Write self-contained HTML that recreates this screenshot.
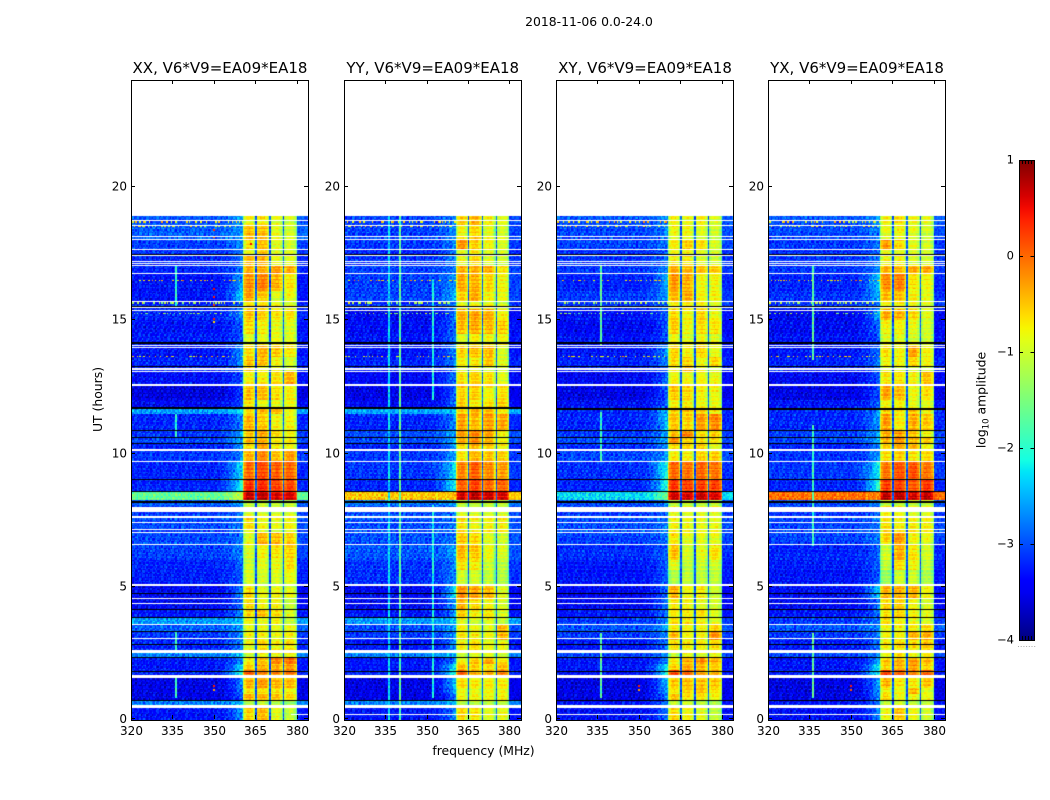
<!DOCTYPE html>
<html lang="en">
<head>
<meta charset="utf-8">
<title>2018-11-06 0.0-24.0</title>
<style>
html,body{margin:0;padding:0;background:#fff;width:1050px;height:800px;overflow:hidden}
#stage{position:relative;width:1050px;height:800px;font-family:"DejaVu Sans","Liberation Sans",sans-serif}
canvas{position:absolute;display:block}
svg{position:absolute;left:0;top:0}
text{font-family:"DejaVu Sans","Liberation Sans",sans-serif;fill:#000}
</style>
</head>
<body>
<div id="stage">
<svg id="overlay" width="1050" height="800" viewBox="0 0 1050 800">
<text x="589" y="26" text-anchor="middle" font-size="12.4">2018-11-06 0.0-24.0</text>
<text transform="translate(102,399.5) rotate(-90)" text-anchor="middle" font-size="12.4">UT (hours)</text>
<text x="483.5" y="755" text-anchor="middle" font-size="12.4">frequency (MHz)</text>
<text transform="translate(985.5,400) rotate(-90)" text-anchor="middle" font-size="12.4">log<tspan font-size="8.5" dy="3">10</tspan><tspan dy="-3"> amplitude</tspan></text>
</svg>
</div>
<script>
const panelTitles = ["XX, V6*V9=EA09*EA18","YY, V6*V9=EA09*EA18","XY, V6*V9=EA09*EA18","YX, V6*V9=EA09*EA18"];
const xTickLabels = [320,335,350,365,380];
const yTickLabels = [0,5,10,15,20];
const colorTickLabels = [1,0,-1,-2,-3,-4];
const bandEdges = [360.4,365,370.1,375.1,379.9];
const notchValue = -3.0;
const subbandTaper = [-0.65,-0.2,-0.05,0.02,0.04,0.02,-0.05,-0.2,-0.6];
const offBandShift = -0.24;

/* UT at which each time segment starts; last segment ends at dataEndUT */
const dataEndUT = 18.9;
const segStarts = [0,0.54,0.73,0.95,1.2,1.6,1.85,2.08,2.36,2.62,3.01,3.31,3.6,3.84,4.14,4.55,5.05,5.6,6.0,6.57,7.0,7.55,8.0,8.25,8.55,9.0,9.67,10.1,10.34,10.6,10.86,11.45,11.65,12.0,12.55,13.05,13.25,13.6,14.0,14.45,15.0,15.4,15.67,16.1,16.75,17.05,17.42,17.63,18.0,18.55];

/* log10 amplitude per segment: [off-band, band-edge, sub-band 1..4] */
const seriesXX = [
[-3.1,-2.6,-.5,-.35,-.8,-1],[-2.5,-2.4,-1,-.9,-1,-1.2],[-3.3,-2.9,-.25,-.3,-.4,-.5],[-3.3,-2.8,-.6,-.6,-.6,-.7],[-3.3,-2.7,-.3,-.2,-.3,-.35],
[-3,-1.9,.15,-.1,-.1,0],[-3.1,-2.2,-.45,-.3,-.3,-.2],[-3.1,-2.7,-.7,-.45,-.1,0],[-2.5,-2.4,-.9,-.7,-.7,-.7],[-3,-2.7,-.75,-.55,-.7,-.6],
[-2.9,-2.7,-.7,-.7,-.75,-.7],[-2.7,-2.6,-.8,-.8,-.8,-.75],[-2.4,-2.4,-.7,-.8,-.7,-1],[-3.1,-2.7,-.55,-.45,-.6,-.9],[-3.2,-2.8,-.55,-.75,-.7,-1],
[-3.2,-2.7,-.5,-.8,-.7,-.8],[-3.05,-2.9,-.85,-.9,-.85,-.75],[-3,-2.9,-.9,-.8,-.75,-.55],[-2.85,-2.7,-.85,-.7,-.6,-.5],[-2.8,-2.8,-.8,-.35,-.35,-.5],
[-2.8,-2.8,-.55,-.75,-.8,-.7],[-2.9,-2.8,-.9,-.9,-.9,-.9],[-2.7,-2.6,-1,-1,-1,-1],[-1.7,-1,.75,.75,.65,.65],[-3,-2,.4,.4,.3,.25],
[-3,-2.2,.1,.25,.15,.1],[-2.9,-2.7,-.3,-.1,-.4,-.2],[-3,-2.6,-.5,-.2,-.6,-.7],[-2.8,-2.5,-.3,-.3,-.6,-.6],[-2.9,-2.5,-.4,-.25,-.5,-.7],
[-3,-2.7,-.3,-.45,-.7,-.7],[-2.4,-2.3,-.6,-.4,-.4,-.8],[-3.2,-3,-.6,-.8,-.8,-.75],[-3.35,-3.1,-.4,-.4,-.6,-.7],[-3.15,-3,-.7,-.7,-.6,-.35],
[-3,-2.8,-.45,-.7,-.75,-.9],[-3,-2.7,-.4,-.4,-.7,-.9],[-3.1,-2.6,-.5,-.3,-.4,-.6],[-3.05,-3,-.85,-.8,-.75,-.85],[-3.1,-2.9,-.5,-.65,-.75,-.8],
[-3,-2.7,-.4,-.5,-.6,-.6],[-3,-2.9,-.55,-.55,-.7,-.85],[-3.1,-2.3,-.2,-.45,-.85,-.75],[-3.1,-2.5,-.1,-.05,-.3,-.6],[-3,-2.8,-.3,-.3,-.2,-.3],
[-3,-2.8,-.3,-.3,-.75,-.8],[-2.9,-2.8,-.7,-.4,-.8,-.8],[-2.85,-2.7,-.6,-.4,-.8,-.9],[-2.7,-2.6,-.35,-.4,-.8,-.9],[-2.75,-2.6,-.7,-.6,-.8,-.9]];
const seriesYY = [
[-3.1,-2.7,-.5,-.6,-.8,-.75],[-2.5,-2.4,-1,-1,-1,-1],[-3.3,-2.9,-.7,-.7,-.7,-.7],[-3.3,-2.6,-.75,-.8,-.7,-.75],[-3.3,-2.3,-.5,-.6,-.6,-.6],
[-3,-2,.1,-.3,-.3,-.1],[-3.1,-2.2,-.4,-.5,-.6,-.4],[-3.1,-2.8,-.7,-.45,-.25,-.6],[-2.5,-2.4,-.9,-.8,-.8,-.9],[-3.1,-2.7,-.7,-.6,-.8,-.8],
[-2.9,-2.7,-.6,-.7,-.75,-.4],[-2.8,-2.5,-.65,-.75,-.8,-.35],[-2.4,-2.4,-.8,-.9,-.8,-1],[-3.1,-2.7,-.5,-.7,-.65,-.9],[-3.2,-2.6,-.3,-.55,-.7,-.9],
[-3.2,-2.2,-.1,-.2,-.3,-.8],[-2.95,-2.7,-.9,-.9,-1,-1.1],[-2.9,-2.7,-.55,-.6,-.9,-1],[-2.75,-2.6,-.35,-.45,-.75,-.9],[-2.75,-2.8,-.4,-.5,-.8,-.9],
[-2.8,-2.8,-.6,-.75,-.7,-.7],[-2.8,-2.8,-.85,-.9,-.9,-.9],[-2.6,-2.6,-1,-1,-1,-1],[-.55,-.5,.7,.8,.75,.65],[-3,-2.1,.15,.3,.1,.1],
[-2.9,-2.2,-.05,.15,-.1,-.2],[-2.9,-2.6,-.6,-.35,-.4,-.5],[-3,-2.6,-.5,-.3,-.4,-.65],[-2.8,-2.5,-.25,-.1,-.3,-.7],[-2.8,-2.5,-.2,-.1,-.25,-.7],
[-3,-2.7,-.2,-.35,-.2,-.25],[-2.35,-2.35,-.55,-.35,-.4,-.7],[-3.2,-2.9,-.5,-.7,-.6,-.55],[-3.3,-2.9,-.5,-.5,-.7,-.6],[-3.2,-2.8,-.6,-.5,-.6,-.85],
[-3,-2.9,-.8,-.75,-.9,-.9],[-3,-2.7,-.6,-.6,-.4,-.8],[-3.1,-2.7,-.5,-.4,-.35,-.9],[-3.1,-2.8,-.8,-.65,-.7,-.7],[-3.15,-2.8,-.35,-.25,-.35,-.45],
[-3.2,-2.8,-.3,-.25,-.3,-.7],[-2.9,-2.8,-.75,-.7,-.7,-.9],[-2.85,-2.5,-.5,-.3,-.7,-.8],[-2.85,-2.6,-.25,-.3,-.5,-.7],[-2.85,-2.8,-.3,-.3,-.3,-.6],
[-2.9,-2.7,-.7,-.5,-.8,-.9],[-3,-2.8,-.8,-.6,-.8,-.9],[-2.9,-2.7,-.15,-.5,-.7,-.9],[-2.85,-2.7,-.7,-.5,-.8,-.9],[-2.85,-2.7,-.5,-.35,-.7,-.85]];
const seriesXY = [
[-3.15,-2.8,-.5,-.7,-.8,-1],[-3.1,-2.8,-.9,-.9,-1,-1.1],[-3.3,-2.7,-.4,-.6,-.6,-.7],[-3.3,-2.5,-.6,-.5,-.4,-.6],[-3.3,-2.4,-.4,-.35,-.35,-.4],
[-3.1,-2,.3,.1,-.2,-.3],[-3.1,-2.1,-.5,-.3,-.4,-.5],[-3.1,-2.7,-.6,-.3,-.1,-.3],[-2.8,-2.7,-.9,-.7,-.8,-.7],[-3.1,-2.8,-.6,-.7,-.7,-.6],
[-2.9,-2.7,-.35,-.7,-.7,-.15],[-2.75,-2.55,-.65,-.7,-.7,-.5],[-2.9,-2.8,-.6,-.7,-.7,-.9],[-3.1,-2.8,-.65,-.7,-.6,-.9],[-3.2,-2.8,-.6,-.7,-.8,-.9],
[-3.2,-2.8,-.25,-.7,-.6,-.9],[-3.1,-2.9,-1.1,-1,-1,-1],[-3.05,-2.9,-.75,-1,-.9,-.9],[-2.95,-2.9,-.4,-.9,-.8,-.6],[-2.85,-2.8,-.6,-.8,-.8,-.8],
[-2.8,-2.8,-.7,-.8,-.8,-.8],[-2.9,-2.9,-.8,-.85,-.85,-.85],[-2.8,-2.7,-1,-1,-1,-1],[-2.1,-1.5,.7,.65,.75,.65],[-3,-1.9,.35,.3,.3,.3],
[-2.95,-2,.1,0,.1,0],[-2.8,-2.6,-.6,-.65,-.45,-.45],[-2.95,-2.6,-.5,-.5,-.45,-.8],[-2.8,-2.5,-.1,-.5,-.6,-.6],[-2.9,-2.6,-.4,-.1,-.6,-.5],
[-3,-2.4,-.4,-.5,-.2,-.1],[-3,-2.4,-.5,-.5,-.5,-.7],[-3.15,-2.9,-.7,-.7,-.75,-.8],[-3.3,-2.9,-.45,-.55,-.7,-.75],[-3.2,-2.9,-.7,-.75,-.7,-.75],
[-3,-2.8,-.65,-.25,-.7,-.9],[-3,-2.7,-.5,-.5,-.7,-.5],[-3.1,-2.6,-.5,-.7,-.5,-.8],[-3.1,-2.9,-.7,-.8,-.7,-.8],[-3.2,-3,-.45,-.75,-.55,-.6],
[-3.1,-2.9,-.5,-.7,-.5,-.75],[-2.9,-2.9,-.7,-.7,-.7,-.9],[-2.9,-2.6,-.35,-.3,-.7,-.7],[-3,-2.5,-.15,-.3,-.7,-.7],[-2.9,-2.7,-.25,-.35,-.4,-.45],
[-2.9,-2.8,-.6,-.6,-.8,-.9],[-2.95,-2.9,-.7,-.7,-.8,-.9],[-2.85,-2.8,-.65,-.5,-.6,-.9],[-2.8,-2.7,-.7,-.7,-.8,-.9],[-2.75,-2.7,-.7,-.8,-.7,-.9]];
const seriesYX = [
[-3.15,-2.7,-.7,-.4,-.7,-.9],[-3.1,-2.8,-1,-.9,-1,-1],[-3.3,-2.7,-.5,-.75,-.7,-.75],[-3.3,-2.6,-.65,-.7,-.3,-.8],[-3.3,-2.5,-.3,-.6,-.6,-.4],
[-3.05,-2,.3,.1,-.1,.1],[-3.1,-2.1,-.5,-.3,-.2,-.5],[-3.1,-2.6,-.4,-.3,-.15,-.35],[-2.85,-2.7,-.8,-.6,-.8,-.7],[-3.1,-2.8,-.7,-.6,-.6,-.5],
[-2.9,-2.8,-.7,-.7,-.3,-.3],[-2.75,-2.7,-.75,-.75,-.7,-.55],[-2.9,-2.8,-.6,-.7,-.8,-.9],[-3.1,-2.8,-.6,-.5,-.7,-.8],[-3.2,-2.8,-.5,-.5,-.7,-.9],
[-3.15,-2.3,-.3,-.3,-.3,-.7],[-3.1,-2.9,-1.2,-.9,-.9,-1.1],[-3.05,-2.9,-1,-.55,-.7,-1],[-3,-2.9,-.9,-.3,-.6,-.9],[-2.85,-2.8,-.5,-.2,-.7,-.8],
[-2.85,-2.8,-.6,-.7,-.7,-.7],[-2.9,-2.9,-.6,-.7,-.8,-.8],[-2.8,-2.7,-1,-1,-1,-1],[-.05,-.15,.85,.85,.75,.8],[-3,-1.9,.35,.3,.2,.35],
[-2.9,-2.1,0,.2,.2,0],[-2.9,-2.6,-.5,-.45,-.55,-.5],[-3,-2.7,-.45,-.25,-.3,-.7],[-2.85,-2.5,-.35,-.2,-.4,-.5],[-2.85,-2.5,-.25,-.2,-.4,-.7],
[-3,-2.6,-.2,-.65,-.3,-.45],[-3,-2.6,-.6,-.7,-.5,-.8],[-3.1,-2.9,-.7,-.7,-.8,-.85],[-3.3,-3,-.25,-.4,-.75,-.6],[-3.2,-2.9,-.6,-.6,-.7,-.4],
[-3,-2.9,-.7,-.8,-.8,-.85],[-3,-2.8,-.7,-.7,-.5,-.7],[-3.1,-2.8,-.55,-.7,-.25,-.7],[-3.1,-3,-.8,-.8,-.85,-.9],[-3.2,-2.8,-.7,-.7,-.8,-.9],
[-3.2,-2.5,-.25,-.3,-.5,-.8],[-2.9,-2.8,-.7,-.7,-.75,-.85],[-2.95,-2.5,-.4,-.45,-.7,-.85],[-3,-2.3,-.1,-.05,-.6,-.7],[-2.9,-2.7,-.3,-.35,-.25,-.25],
[-2.9,-2.8,-.7,-.7,-.85,-.9],[-2.95,-2.9,-.75,-.8,-.85,-.9],[-2.9,-2.8,-.2,-.55,-.8,-.9],[-2.8,-2.7,-.75,-.7,-.8,-.9],[-2.75,-2.6,-.7,-.6,-.75,-.85]];
const panelSeries = [seriesXX,seriesYY,seriesXY,seriesYX];

/* flagged integrations, in UT hours */
const whiteGaps = [[.42,.54],[1.55,1.67],[2.51,2.62],[3.01,3.04],[3.53,3.58],[4.34,4.38],[4.53,4.57],[5,5.08],[6.55,6.59],[7,7.03],[7.12,7.15],[7.37,7.42],[7.55,7.63],[7.8,7.98],[9.65,9.69],[10.07,10.14],[12.5,12.6],[13.03,13.07],[13.13,13.18],[14.01,14.05],[13.95,13.98],[15.35,15.38],[15.46,15.49],[15.65,15.69],[16.73,16.77],[17.01,17.05],[17.1,17.14],[17.18,17.22],[17.4,17.45],[17.61,17.65],[17.98,18.02],[18.1,18.14],[18.53,18.57],[18.72,18.76]];
const blackLines = [[.72,.75],[1.79,1.82],[2.31,2.34],[2.82,2.85],[3.29,3.34],[3.83,3.86],[4.13,4.16],[4.73,4.76],[8.14,8.21],[8.53,8.57],[8.98,9.01],[10.33,10.36],[10.59,10.62],[10.85,10.88],[13.23,13.26],[14.09,14.18],[15.48,15.51],[17.45,17.48]];
const blackLineExtras = [[[11.66,11.72]],[[11.66,11.72]],[[11.62,11.7]],[[11.62,11.7]]];
const lowWhiteRuns = [[378,384],[320,384],[320,384],[320,384]];

/* narrow interference: [MHz, log10 amp, UT start, UT end] */
const rfiXX = [[335.8,-1.9,.8,1.55],[335.8,-1.9,2.6,3.3],[335.8,-2,10.6,11.45],[335.8,-2,15.5,17]];
const rfiYY = [[335.8,-2.3,0,18.9],[340,-1.7,0,18.9],[352,-2.1,.8,8],[352,-2.1,12,16.5]];
const rfiXY = [[335.8,-1.7,.8,3.2],[335.8,-1.9,9.7,11.5],[335.8,-1.7,14,17]];
const rfiYX = [[335.8,-1.7,.8,3.2],[335.8,-1.9,6.5,11],[335.8,-1.7,13.5,17]];
const panelRfi = [rfiXX,rfiYY,rfiXY,rfiYX];

/* rows of sparse hot channels: [UT, log10 amp] */
const hotRows = [[18.66,-1.5],[18.48,-1.7],[16.46,-1.3],[15.6,-2],[15.18,-2.2],[13.59,-1.5]];
/* isolated hot pixels: [panel, MHz, UT, log10 amp] */
const hotPixels = [[0,349.5,16.2,.5],[0,349.5,15.9,.4],[0,349.5,15.6,.3],[0,349.5,15.05,.4],[0,349.5,14.95,-.6],[0,349.5,18.4,.3],[0,349.5,18.15,.0],[0,349.5,1.3,.4],[0,349.5,1.15,-.3],[2,349.5,1.3,.4],[2,349.5,1.15,-.3],[3,349.5,1.3,.4],[3,349.5,1.15,.1],[0,363,17.9,.5]];

/* fine grain seen in the waterfall, signed fraction of the local scatter */
const grainA = [.4,-.7,.1,.9,-.3,-.9,.6,.2,-.5,.8,-.1,-.8,.3,.7,-.6,.0,.5,-.4,-1,.9,.2,-.2,.7,-.7,.4,-.5,.1,.6,-.9,.3,-.3,.8,-.6,.2,-.1,1,-.8,.5,-.4,.6,-.2];
const grainB = [-.5,.8,.2,-.9,.4,.6,-.2,-.7,.9,.1,-.4,.5,-1,.3,.7,-.6,.2,-.1,.8,-.8,.5,-.3,.6,.0,-.7,.9,-.5,.3,-.2,.7,-.9,.4,.1,-.6,.8,-.3,.5];
/* horizontal banding across integrations */
const rowStripe = [.1,-.25,.2,-.1,-.3,.25,.05,-.2,.3,-.15,-.05,.2,-.3,.15,.1,-.2,.25,-.1,.05,-.25,.3,-.05,-.15,.2,.1,-.3,.15,-.1,.2];

const plotLefts = [131,344,556,768];
const plotWidths = [177,176.5,177,177];
const plotTop = 80, plotHeight = 639.5, minMHz = 320, maxMHz = 384, maxUT = 24;
const cbLeft = 1019, cbTop = 160, cbWidth = 15, cbHeight = 480, cbMin = -4, cbMax = 1;
const chanStep = 0.5, rowStep = 0.05;

function xPos(p, mhz){ return plotWidths[p]*(mhz-minMHz)/(maxMHz-minMHz); }
function yPos(ut){ return plotHeight*(1-ut/maxUT); }
function cbY(v){ return cbTop+cbHeight*(cbMax-v)/(cbMax-cbMin); }
function interp(t, xs, ys){
  for(let i=1;i<xs.length;i++){ if(t<=xs[i]) return ys[i-1]+(ys[i]-ys[i-1])*(t-xs[i-1])/(xs[i]-xs[i-1]); }
  return ys[ys.length-1];
}
function jet(t){
  t=Math.max(0,Math.min(1,t));
  const r=interp(t,[0,.35,.66,.89,1],[0,0,1,1,.5]);
  const g=interp(t,[0,.125,.375,.64,.91,1],[0,0,1,1,0,0]);
  const b=interp(t,[0,.11,.34,.65,1],[.5,1,1,0,0]);
  return 'rgb('+Math.round(r*255)+','+Math.round(g*255)+','+Math.round(b*255)+')';
}
function colorOf(v){ return jet((v-cbMin)/(cbMax-cbMin)); }
function segmentAt(ut){ let s=0; for(let i=0;i<segStarts.length;i++){ if(ut>=segStarts[i]) s=i; } return s; }

function cellValue(p, r, c, ut, f, seg){
  const row=panelSeries[p][seg];
  const g=grainA[(r*7+c+p*5)%grainA.length]*.6+grainB[(c*11+r*3+p)%grainB.length]*.6;
  const stripe=rowStripe[(r+p*3)%rowStripe.length];
  const off=row[0]<-2?row[0]+offBandShift:row[0];
  let v;
  if(f<bandEdges[0]){
    const t=Math.max(0,(f-350)/(bandEdges[0]-350));
    v=off+(row[1]-off)*t*t+g*.42+stripe*.25;
    for(const h of hotRows){
      if(Math.abs(ut-h[0])<rowStep*.5 && g>.3) v=h[1]+g*1.3;
    }
    for(const q of panelRfi[p]){
      if(f>=q[0] && f<q[0]+chanStep && ut>=q[2] && ut<=q[3]) v=q[1]+g*.3;
    }
  } else if(f>=bandEdges[4]){
    v=off+.02+g*.3+stripe*.2;
  } else {
    let k=0;
    for(let i=0;i<4;i++){ if(f>=bandEdges[i]) k=i; }
    const lo=bandEdges[k], hi=bandEdges[k+1];
    if(k>0 && f-lo<.4){ v=notchValue+g*.3; }
    else {
      const u=(f-lo)/(hi-lo);
      const j=Math.min(subbandTaper.length-1,Math.floor(u*subbandTaper.length));
      v=row[2+k]-.08+subbandTaper[j]+g*.18+stripe*.55;
    }
  }
  return v;
}

const stage=document.getElementById('stage');
const svg=document.getElementById('overlay');
const NS='http://www.w3.org/2000/svg';
function mk(tag, attrs, parent){
  const e=document.createElementNS(NS,tag);
  for(const k in attrs) e.setAttribute(k,attrs[k]);
  (parent||svg).appendChild(e);
  return e;
}

panelTitles.forEach(function(title,p){
  const L=plotLefts[p], W=plotWidths[p];
  const cv=document.createElement('canvas');
  
  
  cv.width=Math.ceil(W); cv.height=Math.ceil(plotHeight);
  cv.style.left=L+'px'; cv.style.top=plotTop+'px';
  stage.insertBefore(cv,svg);
  const ctx=cv.getContext('2d');
  ctx.fillStyle='#fff'; ctx.fillRect(0,0,cv.width,cv.height);
  const nRows=Math.round(dataEndUT/rowStep), nCh=Math.round((maxMHz-minMHz)/chanStep);
  for(let r=0;r<nRows;r++){
    const ut=r*rowStep, seg=segmentAt(ut+rowStep/2);
    const y1=Math.round(yPos(ut)), y0=Math.round(yPos(ut+rowStep));
    if(y1<=y0) continue;
    for(let c=0;c<nCh;c++){
      const f=minMHz+c*chanStep;
      const x0=Math.round(xPos(p,f)), x1=Math.round(xPos(p,f+chanStep));
      if(x1<=x0) continue;
      ctx.fillStyle=colorOf(cellValue(p,r,c,ut,f+chanStep/2,seg));
      ctx.fillRect(x0,y0,x1-x0,y1-y0);
    }
  }
  hotPixels.forEach(function(h){
    if(h[0]!==p) return;
    ctx.fillStyle=colorOf(h[3]);
    ctx.fillRect(Math.round(xPos(p,h[1])),Math.round(yPos(h[2])),2,2);
  });
  ctx.fillStyle='#fff';
  whiteGaps.forEach(function(g){
    const a=Math.round(yPos(g[1])), b=Math.round(yPos(g[0]));
    ctx.fillRect(0,a,cv.width,Math.max(1,b-a));
  });
  const lw=lowWhiteRuns[p];
  ctx.fillRect(Math.round(xPos(p,lw[0])),Math.round(yPos(.19)),Math.round(xPos(p,lw[1])-xPos(p,lw[0])),1);
  ctx.fillStyle='#000';
  blackLines.concat(blackLineExtras[p]).forEach(function(g){
    const a=Math.round(yPos(g[1])), b=Math.round(yPos(g[0]));
    ctx.fillRect(0,a,cv.width,Math.max(1,b-a));
  });

  const g=mk('g',{});
  
  
  const frame=mk('rect',{x:L+.5,y:plotTop+.5,width:Math.round(W),height:Math.round(plotHeight),fill:'none',stroke:'#000','stroke-width':1},g);
  
  
  const head=mk('text',{x:L+W/2+.5,y:73,'text-anchor':'middle','font-size':15},g);
  head.textContent=title;
  
  
  xTickLabels.forEach(function(t){
    const x=Math.round(L+xPos(p,t))+.5;
    const a=mk('path',{d:'M'+x+' 719V715M'+x+' 80V84',stroke:'#000','stroke-width':1,fill:'none'},g);
    
    
    const lab=mk('text',{x:x,y:735,'text-anchor':'middle','font-size':12},g);
    lab.textContent=String(t);
    
    
  });
  yTickLabels.forEach(function(t){
    const y=Math.floor(plotTop+yPos(t))-(t===0?1:0)+.5;
    const R=L+Math.round(W);
    const a=mk('path',{d:'M'+L+' '+y+'h4M'+R+' '+y+'h-4',stroke:'#000','stroke-width':1,fill:'none'},g);
    
    
    const lab=mk('text',{x:L-4,y:y+(t===0?4.5:4),'text-anchor':'end','font-size':12},g);
    lab.textContent=String(t);
    
    
  });
});

/* colour bar */
const defs=mk('defs',{});
const grad=mk('linearGradient',{id:'jetGradient',x1:0,y1:1,x2:0,y2:0},defs);
for(let i=0;i<=40;i++){ mk('stop',{offset:i/40,'stop-color':jet(i/40)},grad); }
const cb=mk('g',{});


const cbFill=mk('rect',{x:cbLeft,y:cbTop,width:cbWidth,height:cbHeight,fill:'url(#jetGradient)'},cb);


const cbFrame=mk('rect',{x:cbLeft+.5,y:cbTop+.5,width:cbWidth,height:cbHeight,fill:'none',stroke:'#000','stroke-width':1},cb);


colorTickLabels.forEach(function(t){
  const y=Math.round(cbY(t))+.5;
  const m=mk('path',{d:'M'+cbLeft+' '+y+'h4M'+(cbLeft+cbWidth+.5)+' '+y+'h-4',stroke:'#000','stroke-width':1,fill:'none'},cb);
  
  
  const lab=mk('text',{x:cbLeft-5,y:y+3,'text-anchor':'end','font-size':11.5},cb);
  lab.textContent=String(t).replace('-','\u2212');
  
  
});
for(let i=1;i<5;i++){
  const x=cbLeft+i*3+.5;
  const m=mk('path',{d:'M'+x+' '+cbTop+'v4M'+x+' '+(cbTop+cbHeight)+'v-4',stroke:'#000','stroke-width':1,fill:'none'},cb);
  
  
}
for(let i=0;i<7;i++){
  const d=mk('rect',{x:1018+i*2.7,y:646,width:1,height:1,fill:'#aaa'},cb);
  
  
}
</script>
</body>
</html>
